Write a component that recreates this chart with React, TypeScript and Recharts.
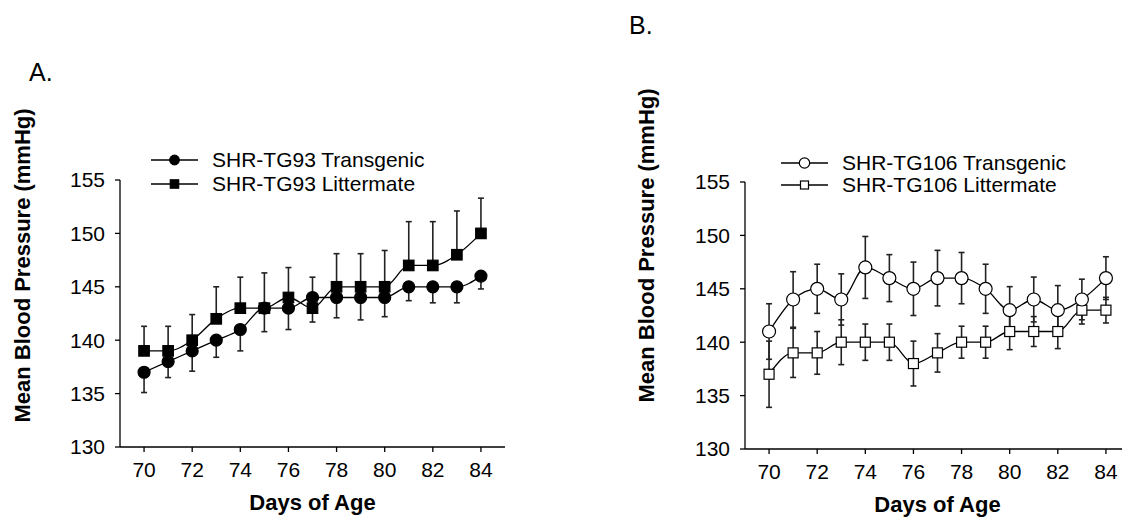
import React from "react";
import { LineChart, Line, XAxis, YAxis, ErrorBar, Legend } from "recharts";

const days = [70, 71, 72, 73, 74, 75, 76, 77, 78, 79, 80, 81, 82, 83, 84];
const dayTicks = [70, 72, 74, 76, 78, 80, 82, 84];
const bpTicks = [130, 135, 140, 145, 150, 155];

// panel A (TG93): error bars drawn one-sided, transgenic down, littermate up
const tg93Transgenic = [137, 138, 139, 140, 141, 143, 143, 144, 144, 144, 144, 145, 145, 145, 146];
const tg93TransgenicSem = [1.9, 1.5, 1.9, 1.6, 2.0, 2.2, 2.0, 2.3, 1.9, 2.1, 1.8, 1.3, 1.5, 1.5, 1.2];
const tg93Littermate = [139, 139, 140, 142, 143, 143, 144, 143, 145, 145, 145, 147, 147, 148, 150];
const tg93LittermateSem = [2.3, 2.3, 2.4, 3.0, 2.9, 3.3, 2.8, 2.9, 3.1, 3.1, 3.4, 4.1, 4.1, 4.1, 3.3];

// panel B (TG106): symmetric error bars
const tg106Transgenic = [141, 144, 145, 144, 147, 146, 145, 146, 146, 145, 143, 144, 143, 144, 146];
const tg106TransgenicSem = [2.6, 2.6, 2.3, 2.4, 2.9, 2.2, 2.5, 2.6, 2.4, 2.3, 2.2, 2.1, 2.3, 1.9, 2.0];
const tg106Littermate = [137, 139, 139, 140, 140, 140, 138, 139, 140, 140, 141, 141, 141, 143, 143];
const tg106LittermateSem = [3.1, 2.3, 2.0, 2.1, 1.7, 1.7, 2.1, 1.8, 1.5, 1.5, 1.7, 1.4, 1.6, 1.3, 1.2];

const FONT = '"Liberation Sans", Arial, Helvetica, sans-serif';

const dataA = days.map((d, i) => ({
  day: d,
  tg: tg93Transgenic[i],
  tgErr: [tg93TransgenicSem[i], 0],
  lit: tg93Littermate[i],
  litErr: [0, tg93LittermateSem[i]],
}));

const dataB = days.map((d, i) => ({
  day: d,
  tg: tg106Transgenic[i],
  tgErr: tg106TransgenicSem[i],
  lit: tg106Littermate[i],
  litErr: tg106LittermateSem[i],
}));

type Marker = "circle" | "square";

function MarkerShape({ cx, cy, kind, filled, scale = 1 }: { cx: number; cy: number; kind: Marker; filled: boolean; scale?: number }) {
  const fill = filled ? "#000" : "#fff";
  if (kind === "circle") {
    return <circle cx={cx} cy={cy} r={(filled ? 6 : 6.5) * scale} fill={fill} stroke="#000" strokeWidth={1.2} />;
  }
  const s = (filled ? 10.5 : 10) * scale;
  return <rect x={cx - s / 2} y={cy - s / 2} width={s} height={s} fill={fill} stroke="#000" strokeWidth={1.2} />;
}

const dotFn = (kind: Marker, filled: boolean) => (p: any) => {
  if (p.cx == null || p.cy == null) return <g key={p.index} />;
  return (
    <g key={`${kind}-${p.index}`}>
      <MarkerShape cx={p.cx} cy={p.cy} kind={kind} filled={filled} />
    </g>
  );
};

function LegendBox({ items, filled, rowH }: { items: { label: string; kind: Marker }[]; filled: boolean; rowH: number }) {
  return (
    <div style={{ fontFamily: FONT, fontSize: 21, color: "#000" }}>
      {items.map((it) => (
        <div key={it.label} style={{ display: "flex", alignItems: "center", height: rowH, whiteSpace: "nowrap" }}>
          <svg width={47} height={rowH} style={{ marginRight: 14 }}>
            <line x1={0} x2={47} y1={rowH / 2} y2={rowH / 2} stroke="#000" strokeWidth={1.3} />
            <MarkerShape cx={23.5} cy={rowH / 2} kind={it.kind} filled={filled} scale={0.8} />
          </svg>
          <span>{it.label}</span>
        </div>
      ))}
    </div>
  );
}

const tickStyle = { fill: "#000", fontSize: 21, fontFamily: FONT };
const axisLineStyle = { stroke: "#000", strokeWidth: 1.3 };

function Panel({
  data,
  filled,
  labels,
  legendPos,
  rowH,
  titleDy,
  titleDx,
}: {
  data: any[];
  filled: boolean;
  labels: [string, string];
  legendPos: { left: number; top: number };
  rowH: number;
  titleDy: number;
  titleDx: number;
}) {
  return (
    <LineChart width={530} height={517} data={data} margin={{ top: 180, right: 25, bottom: 0, left: 0 }}>
      <XAxis
        dataKey="day"
        type="number"
        domain={[69, 85]}
        ticks={dayTicks}
        tick={tickStyle}
        tickSize={5}
        tickMargin={10}
        height={70}
        axisLine={axisLineStyle}
        tickLine={axisLineStyle}
        label={{
          value: "Days of Age",
          position: "insideBottom",
          offset: 7,
          style: { fontFamily: FONT, fontSize: 22, fontWeight: "bold", fill: "#000" },
        }}
      />
      <YAxis
        type="number"
        domain={[130, 155]}
        ticks={bpTicks}
        tick={tickStyle}
        tickSize={5}
        tickMargin={10}
        width={120}
        axisLine={axisLineStyle}
        tickLine={axisLineStyle}
        label={{
          value: "Mean Blood Pressure (mmHg)",
          angle: -90,
          position: "center",
          dx: titleDx,
          dy: titleDy,
          style: { fontFamily: FONT, fontSize: 22, fontWeight: "bold", fill: "#000" },
        }}
      />
      <Legend
        layout="vertical"
        align="center"
        verticalAlign="middle"
        wrapperStyle={{ left: legendPos.left, top: legendPos.top, width: "auto" }}
        content={() => (
          <LegendBox
            filled={filled}
            rowH={rowH}
            items={[
              { label: labels[0], kind: "circle" },
              { label: labels[1], kind: "square" },
            ]}
          />
        )}
      />
      <Line
        dataKey="lit"
        name={labels[1]}
        type="monotone"
        stroke="#000"
        strokeWidth={1.3}
        dot={dotFn("square", filled)}
        activeDot={false}
        isAnimationActive={false}
      >
        <ErrorBar dataKey="litErr" direction="y" width={3} stroke="#222" strokeWidth={1.6} />
      </Line>
      <Line
        dataKey="tg"
        name={labels[0]}
        type="monotone"
        stroke="#000"
        strokeWidth={1.3}
        dot={dotFn("circle", filled)}
        activeDot={false}
        isAnimationActive={false}
      >
        <ErrorBar dataKey="tgErr" direction="y" width={3} stroke="#222" strokeWidth={1.6} />
      </Line>
    </LineChart>
  );
}

export default function App() {
  return (
    <div
      style={{
        position: "fixed",
        left: 0,
        top: 0,
        width: 1122,
        height: 517,
        overflow: "hidden",
        background: "#fff",
        fontFamily: FONT,
      }}
    >
      <div style={{ position: "absolute", left: 29, top: 58, fontSize: 25, color: "#000" }}>A.</div>
      <div style={{ position: "absolute", left: 629, top: 11, fontSize: 25, color: "#000" }}>B.</div>
      <div style={{ position: "absolute", left: 0, top: 0 }}>
        <Panel
          data={dataA}
          filled={true}
          labels={["SHR-TG93 Transgenic", "SHR-TG93 Littermate"]}
          legendPos={{ left: 151, top: 148 }}
          rowH={24}
          titleDx={-38}
          titleDy={-48}
        />
      </div>
      <div style={{ position: "absolute", left: 625, top: 2 }}>
        <Panel
          data={dataB}
          filled={false}
          labels={["SHR-TG106 Transgenic", "SHR-TG106 Littermate"]}
          legendPos={{ left: 156, top: 150 }}
          rowH={22}
          titleDx={-39}
          titleDy={-70}
        />
      </div>
    </div>
  );
}
